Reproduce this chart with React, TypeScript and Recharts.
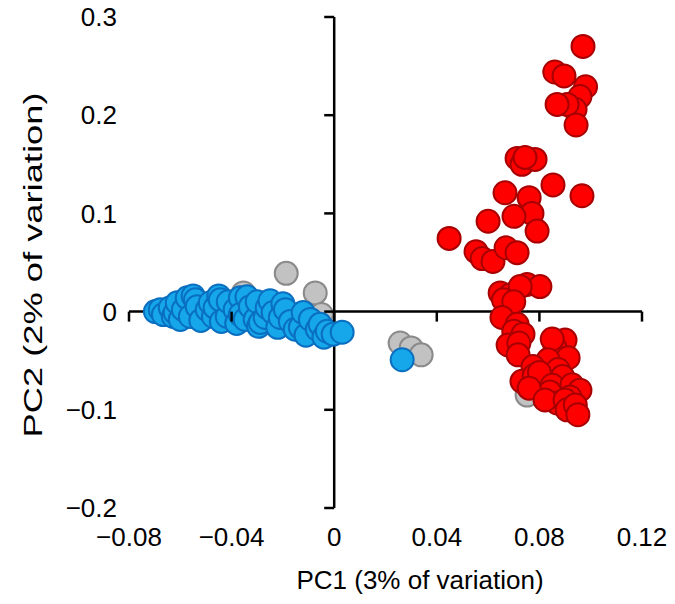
import React from 'react';
import { ScatterChart, Scatter, XAxis, YAxis, ReferenceLine } from 'recharts';

const xTicks = [-0.08, -0.04, 0, 0.04, 0.08, 0.12];
const yTicks = [-0.2, -0.1, 0, 0.1, 0.2, 0.3];
const xTitle = 'PC1 (3% of variation)';
const yTitle = 'PC2 (2% of variation)';

// grey samples (drawn underneath)
const greySamples = [
  { x: -0.0187, y: 0.039 },
  { x: -0.0074, y: 0.019 },
  { x: -0.0354, y: 0.019 },
  { x: -0.005, y: -0.003 },
  { x: -0.06, y: 0.004 },
  { x: 0.0257, y: -0.032 },
  { x: 0.03, y: -0.037 },
  { x: 0.0339, y: -0.044 },
  { x: 0.0752, y: -0.085 },
];

// blue samples
const blueSamples = [
  { x: -0.0697, y: 0.0 },
  { x: -0.0678, y: 0.002 },
  { x: -0.0666, y: -0.003 },
  { x: -0.0639, y: 0.004 },
  { x: -0.0627, y: -0.005 },
  { x: -0.062, y: -0.001 },
  { x: -0.0612, y: 0.009 },
  { x: -0.06, y: -0.008 },
  { x: -0.0588, y: 0.002 },
  { x: -0.0573, y: 0.014 },
  { x: -0.0561, y: -0.005 },
  { x: -0.055, y: 0.016 },
  { x: -0.0541, y: 0.012 },
  { x: -0.0534, y: 0.005 },
  { x: -0.052, y: -0.009 },
  { x: -0.0495, y: 0.002 },
  { x: -0.0483, y: 0.009 },
  { x: -0.0471, y: -0.005 },
  { x: -0.0464, y: 0.004 },
  { x: -0.045, y: 0.016 },
  { x: -0.0444, y: 0.012 },
  { x: -0.044, y: -0.01 },
  { x: -0.0417, y: -0.005 },
  { x: -0.0413, y: 0.01 },
  { x: -0.0386, y: 0.002 },
  { x: -0.038, y: -0.012 },
  { x: -0.0366, y: 0.014 },
  { x: -0.0366, y: -0.003 },
  { x: -0.0347, y: -0.008 },
  { x: -0.034, y: 0.015 },
  { x: -0.0327, y: 0.005 },
  { x: -0.0308, y: -0.008 },
  { x: -0.03, y: 0.01 },
  { x: -0.0295, y: -0.015 },
  { x: -0.0288, y: -0.011 },
  { x: -0.0269, y: -0.006 },
  { x: -0.0261, y: 0.004 },
  { x: -0.025, y: 0.011 },
  { x: -0.0238, y: -0.001 },
  { x: -0.022, y: -0.016 },
  { x: -0.021, y: -0.006 },
  { x: -0.02, y: 0.008 },
  { x: -0.019, y: 0.002 },
  { x: -0.0171, y: -0.01 },
  { x: -0.0152, y: -0.018 },
  { x: -0.0132, y: -0.016 },
  { x: -0.0121, y: -0.001 },
  { x: -0.011, y: -0.024 },
  { x: -0.0093, y: -0.008 },
  { x: -0.0066, y: -0.018 },
  { x: -0.0055, y: -0.013 },
  { x: -0.004, y: -0.026 },
  { x: -0.0027, y: -0.02 },
  { x: -0.0004, y: -0.023 },
  { x: 0.0031, y: -0.021 },
  { x: 0.0265, y: -0.049 },
];

// red samples
const redSamples = [
  { x: 0.097, y: 0.27 },
  { x: 0.086, y: 0.244 },
  { x: 0.0896, y: 0.24 },
  { x: 0.098, y: 0.229 },
  { x: 0.0958, y: 0.219 },
  { x: 0.0939, y: 0.206 },
  { x: 0.0908, y: 0.211 },
  { x: 0.0869, y: 0.211 },
  { x: 0.0943, y: 0.19 },
  { x: 0.0713, y: 0.156 },
  { x: 0.0732, y: 0.15 },
  { x: 0.0783, y: 0.155 },
  { x: 0.0744, y: 0.157 },
  { x: 0.0853, y: 0.129 },
  { x: 0.0966, y: 0.118 },
  { x: 0.0666, y: 0.121 },
  { x: 0.076, y: 0.116 },
  { x: 0.0771, y: 0.1 },
  { x: 0.0701, y: 0.097 },
  { x: 0.0791, y: 0.082 },
  { x: 0.06, y: 0.092 },
  { x: 0.0448, y: 0.0745 },
  { x: 0.0553, y: 0.061 },
  { x: 0.0577, y: 0.054 },
  { x: 0.0619, y: 0.051 },
  { x: 0.067, y: 0.065 },
  { x: 0.0713, y: 0.06 },
  { x: 0.0647, y: 0.019 },
  { x: 0.0686, y: 0.017 },
  { x: 0.0752, y: 0.0276 },
  { x: 0.0802, y: 0.0255 },
  { x: 0.0725, y: 0.0255 },
  { x: 0.066, y: 0.012 },
  { x: 0.07, y: 0.01 },
  { x: 0.0654, y: -0.006 },
  { x: 0.0713, y: -0.013 },
  { x: 0.07, y: -0.02 },
  { x: 0.0736, y: -0.023 },
  { x: 0.0678, y: -0.034 },
  { x: 0.072, y: -0.032 },
  { x: 0.0717, y: -0.044 },
  { x: 0.09, y: -0.029 },
  { x: 0.0861, y: -0.037 },
  { x: 0.085, y: -0.028 },
  { x: 0.0912, y: -0.047 },
  { x: 0.0834, y: -0.049 },
  { x: 0.0775, y: -0.056 },
  { x: 0.0732, y: -0.071 },
  { x: 0.081, y: -0.069 },
  { x: 0.078, y: -0.065 },
  { x: 0.0873, y: -0.059 },
  { x: 0.089, y: -0.066 },
  { x: 0.08, y: -0.062 },
  { x: 0.085, y: -0.075 },
  { x: 0.0927, y: -0.0745 },
  { x: 0.0958, y: -0.08 },
  { x: 0.0841, y: -0.082 },
  { x: 0.076, y: -0.078 },
  { x: 0.0919, y: -0.087 },
  { x: 0.0869, y: -0.093 },
  { x: 0.0822, y: -0.09 },
  { x: 0.09, y: -0.09 },
  { x: 0.0908, y: -0.1 },
  { x: 0.094, y: -0.095 },
  { x: 0.095, y: -0.105 },
];

const FONT = '"Liberation Sans", Arial, Helvetica, sans-serif';
const W = 675;
const H = 604;
const MARGIN = { top: 17, right: 33, bottom: 0, left: 0 };
const Y_AXIS_W = 129;
const X_AXIS_H = 96;
const TICK_LEN = 10;
const AXIS_STROKE = 2.5;
const R = 11.5;

const X_MIN = xTicks[0];
const X_MAX = xTicks[xTicks.length - 1];
const Y_MIN = yTicks[0];
const Y_MAX = yTicks[yTicks.length - 1];
const PLOT_LEFT = MARGIN.left + Y_AXIS_W;
const PLOT_W = W - PLOT_LEFT - MARGIN.right;
const PLOT_H = H - MARGIN.top - X_AXIS_H;
// pixel position of the zero lines, where the axes cross
const ZERO_X = PLOT_LEFT + ((0 - X_MIN) / (X_MAX - X_MIN)) * PLOT_W;
const ZERO_Y = MARGIN.top + ((Y_MAX - 0) / (Y_MAX - Y_MIN)) * PLOT_H;

const fmt = (v: number) => (v === 0 ? '0' : (v < 0 ? '\u2212' : '') + String(Math.abs(v)));

function XTick({ x, y, payload }: any) {
  return (
    <g>
      <line x1={x} x2={x} y1={ZERO_Y} y2={ZERO_Y + TICK_LEN} stroke="#000" strokeWidth={AXIS_STROKE} />
      <text x={x} y={y} dy="0.71em" textAnchor="middle" fontSize={26} fill="#000" fontFamily={FONT}>
        {fmt(payload.value)}
      </text>
    </g>
  );
}

function YTick({ x, y, payload }: any) {
  return (
    <g>
      <line x1={ZERO_X - TICK_LEN} x2={ZERO_X} y1={y} y2={y} stroke="#000" strokeWidth={AXIS_STROKE} />
      <text x={x} y={y} dy="0.355em" textAnchor="end" fontSize={26} fill="#000" fontFamily={FONT}>
        {fmt(payload.value)}
      </text>
    </g>
  );
}

const dot = (fill: string, stroke: string) => (props: any) =>
  <circle cx={props.cx} cy={props.cy} r={R} fill={fill} stroke={stroke} strokeWidth={2} />;

export default function App() {
  return (
    <div style={{ position: 'absolute', left: 0, top: 0, width: W, height: H, background: '#fff' }}>
      <ScatterChart width={W} height={H} margin={MARGIN}>
        <XAxis
          type="number"
          dataKey="x"
          domain={[X_MIN, X_MAX]}
          ticks={xTicks}
          height={X_AXIS_H}
          axisLine={false}
          tickLine={false}
          tickSize={0}
          tickMargin={20}
          interval={0}
          tick={<XTick />}
          label={{
            value: xTitle,
            content: () => (
              <text x={420} y={589} textAnchor="middle" fontSize={26} fill="#000" fontFamily={FONT}>
                {xTitle}
              </text>
            ),
          }}
        />
        <YAxis
          type="number"
          dataKey="y"
          domain={[Y_MIN, Y_MAX]}
          ticks={yTicks}
          width={Y_AXIS_W}
          axisLine={false}
          tickLine={false}
          tickSize={0}
          tickMargin={12}
          interval={0}
          tick={<YTick />}
          label={{
            value: yTitle,
            content: () => (
              <text
                transform="translate(42, 265) rotate(-90)"
                textAnchor="middle"
                textLength={345}
                lengthAdjust="spacingAndGlyphs"
                fontSize={26}
                fill="#000"
                fontFamily={FONT}
              >
                {yTitle}
              </text>
            ),
          }}
        />
        <ReferenceLine x={0} stroke="#000" strokeWidth={AXIS_STROKE} />
        <ReferenceLine y={0} stroke="#000" strokeWidth={AXIS_STROKE} />
        <Scatter data={greySamples} shape={dot('#c2c2c2', '#8a8a8a')} isAnimationActive={false} />
        <Scatter data={blueSamples} shape={dot('#15a7ea', '#0a6fc0')} isAnimationActive={false} />
        <Scatter data={redSamples} shape={dot('#ff0000', '#a80000')} isAnimationActive={false} />
      </ScatterChart>
    </div>
  );
}
